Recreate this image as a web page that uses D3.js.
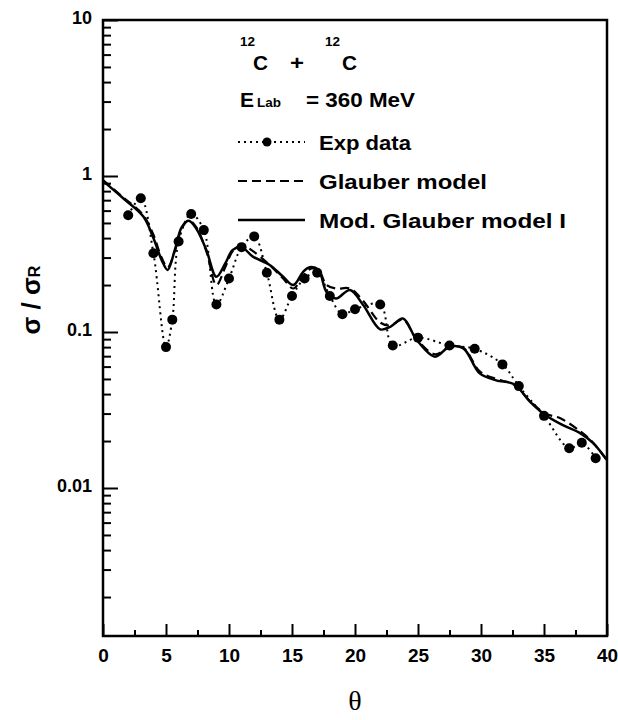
<!DOCTYPE html>
<html>
<head>
<meta charset="utf-8">
<script src="https://cdn.jsdelivr.net/npm/d3@7"></script>
<style>
  html, body { margin: 0; padding: 0; background: #fff; }
  svg { display: block; }
  text { font-family: "Liberation Sans", Arial, sans-serif; font-weight: bold; fill: #000; }
  text.serif { font-family: "Liberation Serif", "Times New Roman", serif; font-weight: normal; }
</style>
</head>
<body>
<svg id="chart" width="618" height="720"></svg>
<script>
// ---- data ----
const expTheta = [2, 3, 4, 5, 5.5, 6, 7, 8, 9, 10, 11, 12, 13, 14, 15, 16, 17, 18, 19, 20, 22, 23, 25, 27.5, 29.5, 31.7, 33, 35, 37, 38, 39.1];
const expValue = [0.56, 0.72, 0.32, 0.08, 0.12, 0.38, 0.57, 0.45, 0.15, 0.22, 0.35, 0.41, 0.24, 0.12, 0.17, 0.22, 0.24, 0.17, 0.13, 0.14, 0.15, 0.082, 0.092, 0.082, 0.078, 0.062, 0.045, 0.029, 0.018, 0.0195, 0.0155];

const glauberTheta = [0, 1.6, 3.2, 4, 4.65, 5.13, 5.7, 6.25, 6.8, 7.4, 8.2, 9, 9.7, 10.3, 11, 11.9, 13.2, 14.3, 15.1, 15.9, 16.5, 17.1, 17.75, 18.5, 19.6, 20.6, 22, 22.8, 23.8, 24.9, 26.35, 27.5, 28.6, 29.9, 31.2, 32.6, 33.9, 35.1, 36.3, 37.9, 38.9, 40];
const glauberValue = [0.94, 0.73, 0.56, 0.42, 0.30, 0.26, 0.33, 0.46, 0.52, 0.47, 0.33, 0.20, 0.26, 0.33, 0.36, 0.33, 0.27, 0.22, 0.19, 0.23, 0.255, 0.25, 0.20, 0.19, 0.19, 0.16, 0.115, 0.11, 0.12, 0.09, 0.072, 0.08, 0.079, 0.056, 0.05, 0.046, 0.036, 0.030, 0.028, 0.023, 0.0195, 0.015];

const modTheta = [0, 1.6, 3.2, 4, 4.65, 5.13, 5.7, 6.25, 6.8, 7.4, 8.2, 9, 9.7, 10.3, 11, 11.9, 13.2, 14.3, 15.1, 15.9, 16.4, 17.1, 17.75, 18.5, 19.6, 20.65, 22, 22.8, 23.8, 24.9, 26.35, 27.5, 28.6, 29.9, 31.2, 32.6, 33.9, 35.1, 36.5, 37.9, 38.9, 40];
const modValue = [0.93, 0.72, 0.55, 0.40, 0.29, 0.25, 0.336, 0.47, 0.516, 0.46, 0.336, 0.226, 0.275, 0.336, 0.35, 0.304, 0.27, 0.226, 0.2, 0.244, 0.26, 0.25, 0.18, 0.164, 0.186, 0.149, 0.104, 0.108, 0.122, 0.089, 0.0695, 0.0805, 0.0786, 0.0543, 0.049, 0.0464, 0.0357, 0.0294, 0.0253, 0.0224, 0.0194, 0.0151];

const xTicks = [0, 5, 10, 15, 20, 25, 30, 35, 40];
const xMinorTicks = [2.5, 7.5, 12.5, 17.5, 22.5, 27.5, 32.5, 37.5];
const yTicks = [10, 1, 0.1, 0.01];
const yTickLabels = ["10", "1", "0.1", "0.01"];
const legendLabels = ["Exp data", "Glauber model", "Mod. Glauber model I"];

// ---- layout ----
const L = 103, R = 607, T = 20, B = 636;
const yMin = Math.pow(10, -3 + 8 / 156);

const svg = d3.select("#chart");
const x = d3.scaleLinear().domain([0, 40]).range([L, R]);
const y = d3.scaleLog().domain([yMin, 10]).range([B, T]);

// minor y ticks
const yMinor = [];
[0.001, 0.01, 0.1, 1].forEach(d => { for (let k = 2; k <= 9; k++) { const v = d * k; if (v >= yMin) yMinor.push(v); } });

// axes
const gx = svg.append("g").attr("transform", `translate(0,${B})`)
  .call(d3.axisBottom(x).tickValues(xTicks).tickSize(-12).tickPadding(13).tickFormat(d3.format("d")));
const gxm = svg.append("g").attr("transform", `translate(0,${B})`)
  .call(d3.axisBottom(x).tickValues(xMinorTicks).tickSize(-6).tickFormat(""));
const gy = svg.append("g").attr("transform", `translate(${L},0)`)
  .call(d3.axisLeft(y).tickValues(yTicks).tickSize(-15).tickPadding(11).tickFormat((d, i) => yTickLabels[i]));
const gym = svg.append("g").attr("transform", `translate(${L},0)`)
  .call(d3.axisLeft(y).tickValues(yMinor).tickSize(-8).tickFormat(""));

[gx, gxm, gy, gym].forEach(g => {
  g.select(".domain").remove();
  g.selectAll(".tick line").attr("stroke", "#000").attr("stroke-width", 2);
});
gx.selectAll("text").style("font-size", "19px");
gy.selectAll("text").style("font-size", "18px").attr("dy", "0.2em");

// frame
svg.append("rect").attr("x", L).attr("y", T).attr("width", R - L).attr("height", B - T)
  .attr("fill", "none").attr("stroke", "#000").attr("stroke-width", 2.5);

// clip
svg.append("clipPath").attr("id", "clip").append("rect")
  .attr("x", L).attr("y", T).attr("width", R - L).attr("height", B - T);
const plot = svg.append("g").attr("clip-path", "url(#clip)");

const line = d3.line().x(d => x(d[0])).y(d => y(d[1])).curve(d3.curveCatmullRom.alpha(0.5));

const expData = d3.zip(expTheta, expValue);
const glData = d3.zip(glauberTheta, glauberValue);
const modData = d3.zip(modTheta, modValue);

plot.append("path").datum(expData).attr("d", line)
  .attr("fill", "none").attr("stroke", "#000").attr("stroke-width", 2).attr("stroke-dasharray", "2,4");
plot.append("path").datum(glData).attr("d", line)
  .attr("fill", "none").attr("stroke", "#000").attr("stroke-width", 2.2).attr("stroke-dasharray", "9,5");
plot.append("path").datum(modData).attr("d", line)
  .attr("fill", "none").attr("stroke", "#000").attr("stroke-width", 2.5);
plot.selectAll("circle.exp").data(expData).enter().append("circle")
  .attr("class", "exp").attr("cx", d => x(d[0])).attr("cy", d => y(d[1])).attr("r", 5).attr("fill", "#000");

// title block: 12C + 12C
svg.append("text").attr("x", 240).attr("y", 46).style("font-size", "12px").attr("textLength", 15).attr("lengthAdjust", "spacingAndGlyphs").text("12");
svg.append("text").attr("x", 253).attr("y", 70).style("font-size", "20px").attr("textLength", 15).attr("lengthAdjust", "spacingAndGlyphs").text("C");
svg.append("text").attr("x", 290).attr("y", 70).style("font-size", "20px").attr("textLength", 14).attr("lengthAdjust", "spacingAndGlyphs").text("+");
svg.append("text").attr("x", 325).attr("y", 46).style("font-size", "12px").attr("textLength", 15).attr("lengthAdjust", "spacingAndGlyphs").text("12");
svg.append("text").attr("x", 342).attr("y", 70).style("font-size", "20px").attr("textLength", 15).attr("lengthAdjust", "spacingAndGlyphs").text("C");

// E_Lab = 360 MeV
svg.append("text").attr("x", 240).attr("y", 107).style("font-size", "21px").text("E");
svg.append("text").attr("x", 257).attr("y", 107).style("font-size", "12px").attr("textLength", 24).attr("lengthAdjust", "spacingAndGlyphs").text("Lab");
svg.append("text").attr("x", 306).attr("y", 107).style("font-size", "21px").attr("textLength", 109).attr("lengthAdjust", "spacingAndGlyphs").text("= 360 MeV");

// legend
const legY = [142, 181, 220];
const legW = [92, 168, 247];
const lx0 = 238, lx1 = 305;
svg.append("line").attr("x1", lx0).attr("x2", lx1).attr("y1", legY[0]).attr("y2", legY[0])
  .attr("stroke", "#000").attr("stroke-width", 2).attr("stroke-dasharray", "2,4");
svg.append("circle").attr("cx", 267).attr("cy", legY[0]).attr("r", 4.5).attr("fill", "#000");
svg.append("line").attr("x1", lx0).attr("x2", lx1).attr("y1", legY[1]).attr("y2", legY[1])
  .attr("stroke", "#000").attr("stroke-width", 2.2).attr("stroke-dasharray", "9,5");
svg.append("line").attr("x1", lx0).attr("x2", lx1).attr("y1", legY[2]).attr("y2", legY[2])
  .attr("stroke", "#000").attr("stroke-width", 2.5);
legendLabels.forEach((t, i) => {
  svg.append("text").attr("x", 319).attr("y", legY[i] + 8).style("font-size", "21px")
    .attr("textLength", legW[i]).attr("lengthAdjust", "spacingAndGlyphs").text(t);
});

// axis titles
const yt = svg.append("text").attr("transform", "translate(40,300) rotate(-90)")
  .attr("text-anchor", "middle").style("font-size", "26px");
yt.append("tspan").text("σ / σ");
yt.append("tspan").style("font-size", "16px").text("R");

svg.append("text").attr("class", "serif").attr("x", 355).attr("y", 710).attr("text-anchor", "middle")
  .style("font-size", "28px").text("θ");
</script>
</body>
</html>
